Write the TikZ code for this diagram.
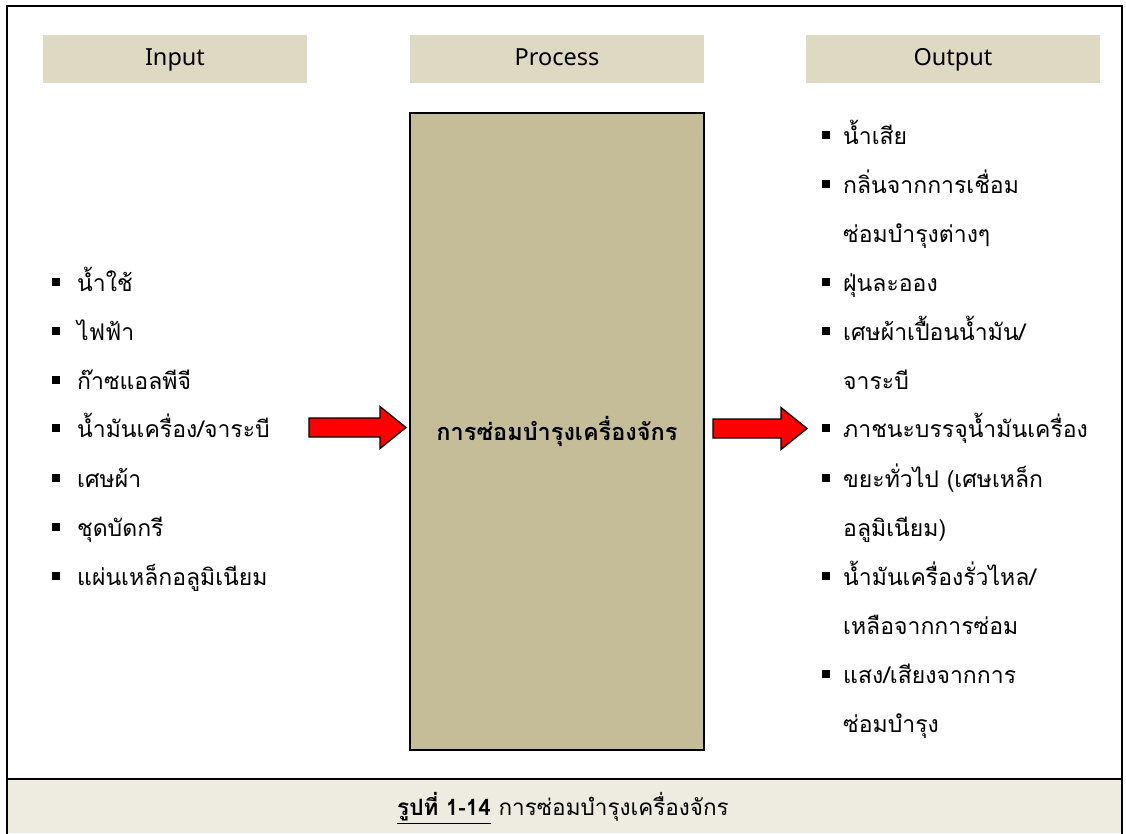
\documentclass[tikz,border=0pt]{standalone}
\usepackage{fontspec}
\setmainfont{Loma}[Script=Thai]
\newfontfamily\latinfont{Noto Sans}
\usetikzlibrary{calc}
\definecolor{headfill}{HTML}{DDD9C3}
\definecolor{boxfill}{HTML}{C4BD97}
\definecolor{capfill}{HTML}{EEECE1}
\definecolor{arrowred}{HTML}{FF0000}
\tikzset{
  header/.style={fill=headfill, minimum height=48pt, inner sep=0pt,
    text height=17pt, text depth=5pt,
    font=\latinfont\fontsize{23.5}{28}\selectfont},
  procbox/.style={draw=black, line width=2pt, fill=boxfill, minimum width=294pt,
    minimum height=637pt, inner sep=0pt, font=\bfseries\fontsize{23.5}{28}\selectfont},
  item/.style={anchor=base west, inner sep=0pt, font=\fontsize{23}{28}\selectfont},
  bullet/.style={fill=black, minimum size=8pt, inner sep=0pt},
  blockarrow/.style={fill=arrowred, draw=black, line width=1.3pt, line join=miter},
}
\newcommand{\listrow}[5]{% name, bullet x, text x, y, text
  \node[bullet] (#1b) at (#2,#4+1.5) {};
  \node[item] (#1) at (#3,#4+11) {#5};
}
\newcommand{\listcont}[4]{% name, text x, y, text (continuation line)
  \node[item] (#1) at (#2,#3+11) {#4};
}
\begin{document}
\begin{tikzpicture}[x=1pt,y=-1pt]
\useasboundingbox (0,0) rectangle (1126,833);
\fill[white] (0,0) rectangle (1126,833);

% caption band and outer frame
\fill[capfill] (7,779) rectangle (1122,833);
\draw[line width=2.5pt] (6,779) -- (1123,779);
\draw[line width=2pt] (7,834) -- (7,6) -- (1122,6) -- (1122,834);
\node (cap) at (563,808) {\fontsize{22.5}{27}\selectfont\underline{\textbf{รูปที่ 1-14}} การซ่อมบำรุงเครื่องจักร};

% column headers
\node[header, minimum width=264pt] (hin) at (175,59) {Input};
\node[header, minimum width=294pt] (hproc) at (557,59) {Process};
\node[header, minimum width=294pt] (hout) at (953,59) {Output};

% process box
\node[procbox] (proc) at (557,431.5) {การซ่อมบำรุงเครื่องจักร};

% input list
\listrow{i1}{56}{77}{280}{น้ำใช้}
\listrow{i2}{56}{77}{329}{ไฟฟ้า}
\listrow{i3}{56}{77}{378}{ก๊าซแอลพีจี}
\listrow{i4}{56}{77}{426}{น้ำมันเครื่อง/จาระบี}
\listrow{i5}{56}{77}{476}{เศษผ้า}
\listrow{i6}{56}{77}{525}{ชุดบัดกรี}
\listrow{i7}{56}{77}{574}{แผ่นเหล็กอลูมิเนียม}

% output list
\listrow{o1}{826}{843}{133}{น้ำเสีย}
\listrow{o2}{826}{843}{182}{กลิ่นจากการเชื่อม}
\listcont{o2b}{843}{231}{ซ่อมบำรุงต่างๆ}
\listrow{o3}{826}{843}{280}{ฝุ่นละออง}
\listrow{o4}{826}{843}{329}{เศษผ้าเปื้อนน้ำมัน/}
\listcont{o4b}{843}{378}{จาระบี}
\listrow{o5}{826}{843}{426}{ภาชนะบรรจุน้ำมันเครื่อง}
\listrow{o6}{826}{843}{476}{ขยะทั่วไป (เศษเหล็ก}
\listcont{o6b}{843}{525}{อลูมิเนียม)}
\listrow{o7}{826}{843}{574}{น้ำมันเครื่องรั่วไหล/}
\listcont{o7b}{843}{623}{เหลือจากการซ่อม}
\listrow{o8}{826}{843}{672}{แสง/เสียงจากการ}
\listcont{o8b}{843}{721}{ซ่อมบำรุง}

% block arrows into and out of the process
\coordinate (ainS) at (309,427.5);
\coordinate (ainE) at (406,427.5);
\coordinate (aoutS) at (713,428.5);
\coordinate (aoutE) at (807,428.5);
\foreach \s/\e in {ainS/ainE, aoutS/aoutE}{
  \draw[blockarrow]
    ($(\s)+(0,-9.5)$) -- ($(\e)+(-26,-9.5)$) -- ($(\e)+(-26,-21)$) -- (\e)
    -- ($(\e)+(-26,21)$) -- ($(\e)+(-26,9.5)$) -- ($(\s)+(0,9.5)$) -- cycle;
}
\end{tikzpicture}
\end{document}
